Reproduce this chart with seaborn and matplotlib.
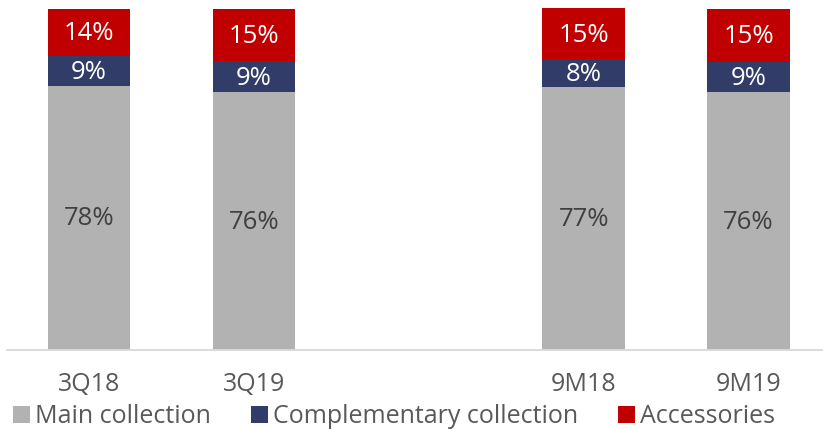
import numpy as np
import matplotlib
matplotlib.use("Agg")
import matplotlib.pyplot as plt
from matplotlib.patches import Patch
import seaborn as sns

sns.set_style('white')
plt.rcParams['font.family'] = ['Open Sans', 'DejaVu Sans']

# --- data (share of sales, %) ---
periods = ["3Q18", "3Q19", " ", "9M18", "9M19"]
bar_periods = ["3Q18", "3Q19", "9M18", "9M19"]
main_collection = [77.6, 75.7, 77.2, 75.7]
complementary = [8.8, 9.1, 8.2, 9.0]
accessories = [13.8, 15.3, 15.0, 15.4]
series_names = ["Main collection", "Complementary collection", "Accessories"]
colors = ["#B2B2B2", "#323C69", "#C00000"]
label_colors = ["#404040", "white", "white"]

main = np.array(main_collection)
comp = np.array(complementary)
acc = np.array(accessories)
level1 = main + comp
level2 = level1 + acc

fig = plt.figure(figsize=(8.23, 4.29), dpi=100)
ax = fig.add_axes([0.008, 0.1853, 1.0017, 0.8147])

# stacked look: draw cumulative totals from top down
for heights, col in zip([level2, level1, main], colors[::-1]):
    sns.barplot(x=bar_periods, y=heights, order=periods, color=col,
                width=0.5, saturation=1, linewidth=0, ax=ax)

# segment labels
pos = {p: i for i, p in enumerate(periods)}
for k, p in enumerate(bar_periods):
    bottoms = [0, main[k], level1[k]]
    vals = [main[k], comp[k], acc[k]]
    for b, v, lc in zip(bottoms, vals, label_colors):
        ax.text(pos[p], b + v / 2 - 0.4, f"{round(v):.0f}%", ha='center', va='center',
                fontsize=18.5, color=lc)

ax.set_xlim(-0.5, 4.5)
ax.set_ylim(0, 102.8)
ax.set_yticks([])
ax.set_xlabel("")
ax.set_ylabel("")
for s in ['top', 'right', 'left']:
    ax.spines[s].set_visible(False)
ax.spines['bottom'].set_color('#D9D9D9')
ax.spines['bottom'].set_linewidth(1.3)
ax.tick_params(axis='x', length=0, pad=16, labelsize=18, labelcolor='#595959')

handles = [Patch(facecolor=c, edgecolor='none') for c in colors]
fig.legend(handles, series_names, loc='lower center', bbox_to_anchor=(0.479, 0.0),
           ncol=3, frameon=False, fontsize=18, handlelength=0.68, handleheight=0.68,
           handletextpad=0.2, columnspacing=1.6, labelcolor='#595959',
           borderpad=0, borderaxespad=0)

fig.savefig('out.png', dpi=100)
